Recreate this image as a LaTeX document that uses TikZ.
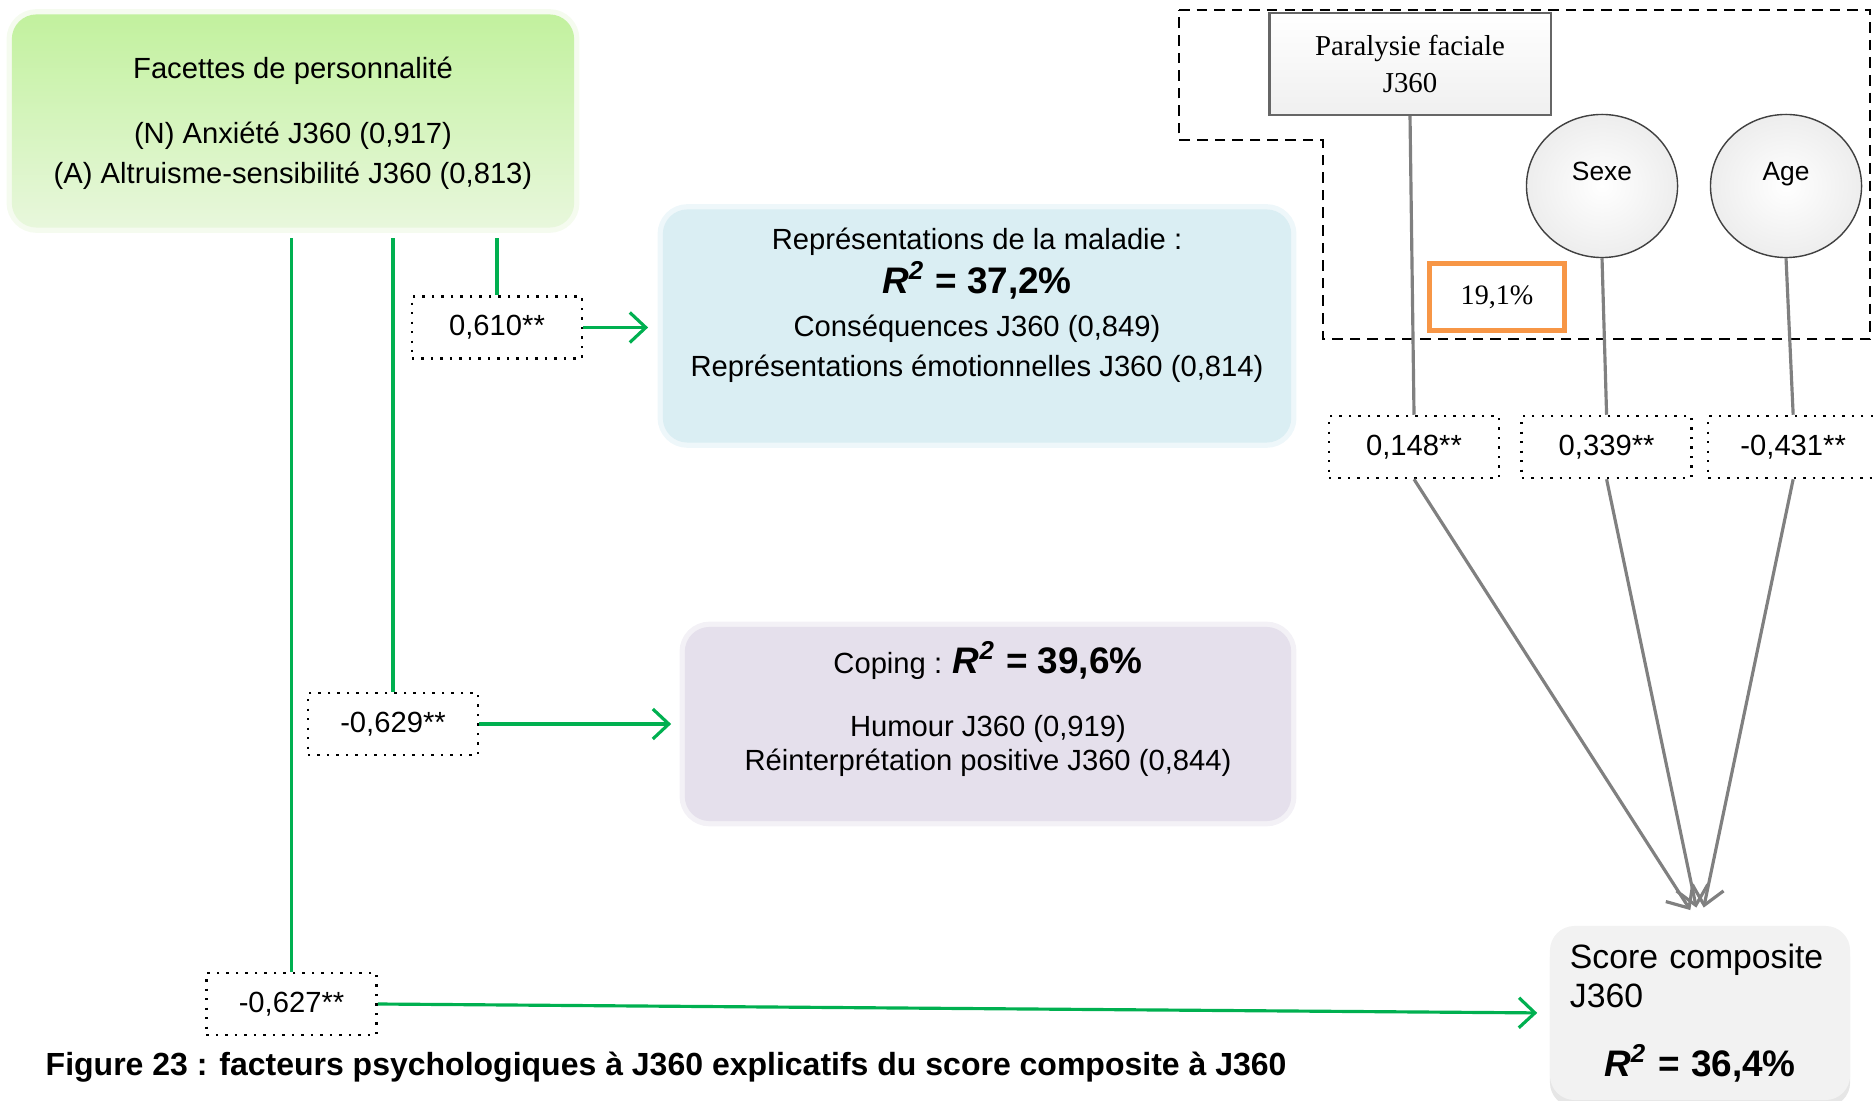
\documentclass[tikz,border=0pt]{standalone}
\usepackage{fontspec}
\setmainfont{Liberation Sans}
\newfontfamily\timesfont{Liberation Serif}
\usetikzlibrary{shapes.geometric, arrows.meta, positioning, calc, shadows}

\definecolor{pgreen}{HTML}{00B050}
\definecolor{facetop}{HTML}{C2F19E}
\definecolor{facebot}{HTML}{E8F7DC}
\definecolor{repblue}{HTML}{DAEEF3}
\definecolor{coppurple}{HTML}{E5E0EC}
\definecolor{scoregray}{HTML}{F2F2F2}
\definecolor{porange}{HTML}{F79646}
\definecolor{pgray}{HTML}{808080}

\newcommand{\rtwo}[1]{{\fontsize{10.5}{12}\selectfont\bfseries
  \textit{R}\textsuperscript{\textit{2}} = #1\%}}

\tikzset{
  glow/.style = {preaction={draw=#1, line width=3pt}},
  facbox/.style = {
    rectangle, rounded corners=7pt, draw=none,
    top color=facetop, bottom color=facebot, glow=facebot!45,
    minimum width=5.62cm, minimum height=2.13cm,
    align=center, font=\fontsize{8.3}{11.4}\selectfont
  },
  medbox/.style = {
    rectangle, rounded corners=7pt, draw=none,
    align=center, font=\fontsize{8.3}{11.4}\selectfont
  },
  coef/.style = {
    rectangle, draw=black, dotted, line width=0.7pt,
    minimum width=1.7cm, minimum height=0.62cm,
    inner sep=0pt, font=\fontsize{8.3}{10}\selectfont
  },
  ball/.style = {
    ellipse, draw=black!75, line width=0.4pt,
    inner color=white, outer color=gray!14,
    minimum width=1.51cm, minimum height=1.43cm,
    text height=0.22cm, text depth=0.33cm,
    font=\fontsize{7.5}{9}\selectfont
  },
  gline/.style  = {draw=pgreen, line width=0.9pt},
  garr/.style   = {gline, -{Straight Barb[length=1.6mm, width=3mm]}},
  grline/.style = {draw=pgray, line width=0.9pt},
  grarr/.style  = {grline, -{Straight Barb[length=1.8mm, width=3.2mm]}},
  frame/.style  = {draw=black, line width=0.6pt, dash pattern=on 3pt off 2pt}
}

\begin{document}
\begin{tikzpicture}[x=0.01cm, y=-0.01cm]
\useasboundingbox (0,0) rectangle (1874,1101);

%% Personality facets
\node[facbox, text depth=0.02cm] (fac) at (293,121) {Facettes de personnalité\\[0.25cm]
  (N) Anxiété J360 (0,917)\\
  (A) Altruisme-sensibilité J360 (0,813)};

%% Mediators
\node[medbox, fill=repblue, glow=repblue!45, minimum width=6.28cm,
      minimum height=2.33cm, text depth=0.47cm] (rep) at (977,326)
  {Représentations de la maladie :\\[1pt]
   \rtwo{37,2}\\[1pt]
   Conséquences J360 (0,849)\\
   Représentations émotionnelles J360 (0,814)};
\node[medbox, fill=coppurple, glow=coppurple!45, minimum width=6.06cm,
      minimum height=1.94cm, text depth=0.36cm] (cop) at (988,724)
  {Coping : \rtwo{39,6}\\[0.23cm]
   Humour J360 (0,919)\\[-1.5pt]
   Réinterprétation positive J360 (0,844)};

%% Outcome
\node[medbox, fill=scoregray, minimum width=3cm, minimum height=1.74cm,
      text width=2.6cm, align=left, font=\fontsize{9.6}{11.1}\selectfont,
      drop shadow={opacity=0.2, shadow xshift=0pt, shadow yshift=-2pt}]
      (score) at (1700,1013)
  {Score composite\\J360\\[0.3cm]
   \makebox[2.6cm]{\rtwo{36,4}}};

%% Coefficients (left)
\node[coef] (c610) at (497,327.5) {0,610**};
\node[coef] (c629) at (393,724)   {-0,629**};
\node[coef] (c627) at (291.5,1004) {-0,627**};

%% Control variables
\draw[frame] (1179,10) -- (1870,10) -- (1870,339) -- (1323,339)
  -- (1323,140) -- (1179,140) -- cycle;
\node[rectangle, draw=black!60, line width=0.6pt,
      top color=white, bottom color=gray!12,
      minimum width=2.81cm, minimum height=1.02cm,
      align=center, font=\timesfont\fontsize{8.2}{10.5}\selectfont]
      (para) at (1410,64) {Paralysie faciale\\J360};
\node[ball] (sexe) at (1602,186) {Sexe};
\node[ball] (age)  at (1786,186) {Age};
\node[rectangle, draw=porange, line width=1.4pt,
      minimum width=1.35cm, minimum height=0.67cm,
      font=\timesfont\fontsize{8}{10}\selectfont]
      (pct) at (1497,297) {19,1\%};

%% Coefficients (right)
\node[coef] (c148) at (1414,447) {0,148**};
\node[coef, right=0.2cm of c148]  (c339) {0,339**};
\node[coef, right=0.14cm of c339] (c431) {-0,431**};

%% Green paths
\draw[gline, shorten <=0.1cm] (c610.north |- fac.south) -- (c610.north);
\draw[gline, shorten <=0.1cm] (c629.north |- fac.south) -- (c629.north);
\draw[gline, shorten <=0.1cm] (c627.north |- fac.south) -- (c627.north);
\draw[garr, shorten >=0.14cm] (c610.east) -- (c610.east -| rep.west);
\draw[garr, shorten >=0.13cm] (c629.east) -- (c629.east -| cop.west);
\draw[garr, shorten >=0.12cm] (c627.east) -- (score.west);

%% Grey paths
\draw[grline] (para.south) -- (c148.north);
\draw[grline] (sexe.south) -- (c339.north);
\draw[grline] (age.south)  -- (c431.north);
\draw[grarr, shorten >=0.18cm] (c148.south) -- (score.north);
\draw[grarr, shorten >=0.18cm] (c339.south) -- (score.north);
\draw[grarr, shorten >=0.18cm] (c431.south) -- (score.north);

%% Caption
\node[anchor=base west, inner sep=0pt,
      font=\fontsize{9.1}{11}\selectfont\bfseries] (cap) at (45,1075)
  {Figure 23 : facteurs psychologiques à J360 explicatifs du score composite à J360};

\end{tikzpicture}
\end{document}
